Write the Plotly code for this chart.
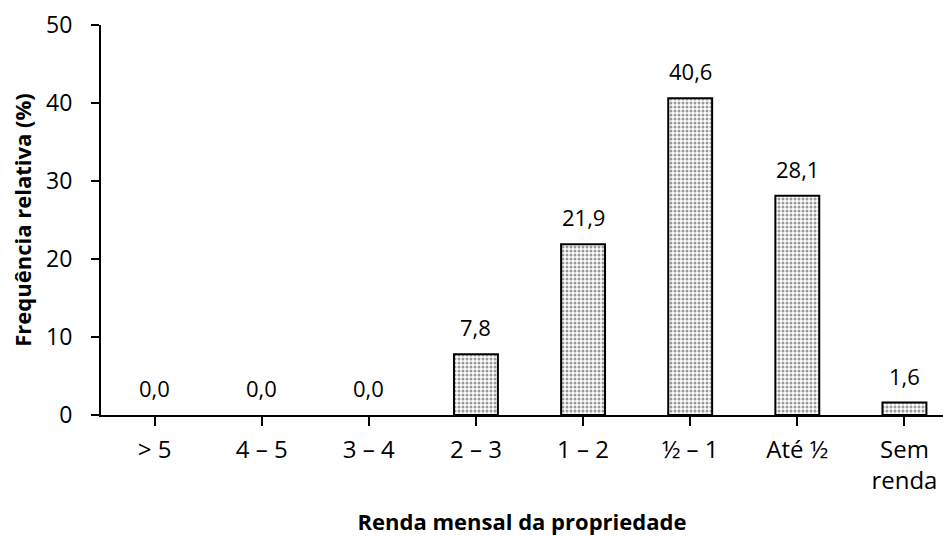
import plotly.graph_objects as go

categories = ["> 5", "4 – 5", "3 – 4", "2 – 3", "1 – 2", "½ – 1", "Até ½", "Sem<br>renda"]
values = [0.0, 0.0, 0.0, 7.8, 21.9, 40.6, 28.1, 1.6]
y_ticks = [0, 10, 20, 30, 40, 50]

FONT = "Open Sans"

fig = go.Figure()
fig.add_trace(go.Bar(
    x=list(range(len(categories))),
    y=values,
    width=0.41,
    marker=dict(
        color="white",
        line=dict(color="black", width=[0 if v == 0 else 2 for v in values]),
        pattern=dict(shape=".", fgcolor="#333333", bgcolor="white", size=4, solidity=0.45, fillmode="overlay"),
    ),
    hoverinfo="skip",
))

for i, v in enumerate(values):
    fig.add_annotation(
        x=i, y=v, text=f"{v:.1f}".replace(".", ","),
        showarrow=False, yanchor="bottom", yshift=10,
        font=dict(family=FONT, size=22, color="black"),
    )

fig.update_layout(
    width=943, height=536,
    margin=dict(l=101, r=0, t=25, b=121),
    plot_bgcolor="white", paper_bgcolor="white",
    showlegend=False,
    font=dict(family=FONT, size=24, color="black"),
    xaxis=dict(
        range=[-0.5, 7.36],
        automargin=False,
        tickmode="array",
        tickvals=list(range(len(categories))),
        ticktext=categories,
        tickson="boundaries",
        ticks="outside", ticklen=9, tickwidth=2, tickcolor="black",
        tickfont=dict(family=FONT, size=24),
        ticklabelstandoff=3,
        showline=True, linecolor="black", linewidth=2,
        showgrid=False, zeroline=False,
        title=dict(text="<b>Renda mensal da propriedade</b>", font=dict(family=FONT, size=22), standoff=20),
    ),
    yaxis=dict(
        range=[0, 50],
        automargin=False,
        tickmode="array", tickvals=y_ticks,
        ticks="outside", ticklen=8, tickwidth=2, tickcolor="black",
        tickfont=dict(family=FONT, size=23),
        ticklabelstandoff=14,
        showline=True, linecolor="black", linewidth=2,
        showgrid=False, zeroline=False,
        title=dict(text="<b>Frequência relativa (%)</b>", font=dict(family=FONT, size=22), standoff=8),
    ),
)

fig.write_html(
    "out.html",
    config={"displayModeBar": False},
    post_script="document.body.style.margin='0';document.body.style.overflow='hidden';",
)
